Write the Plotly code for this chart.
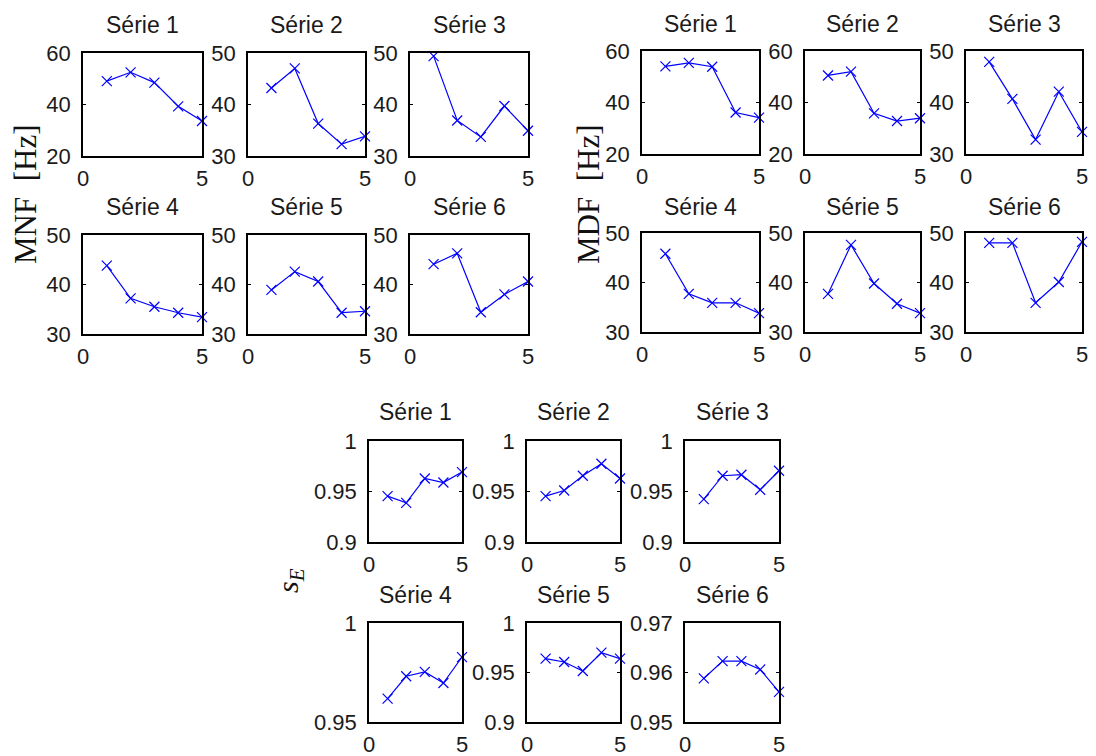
import plotly.graph_objects as go

W, H = 1096, 756

x_vals = [1, 2, 3, 4, 5]
titles = ["Série 1", "Série 2", "Série 3", "Série 4", "Série 5", "Série 6"]

# MNF [Hz]
mnf_s1 = [49.1, 52.5, 48.5, 39.3, 33.6]
mnf_s2 = [43.2, 47.0, 36.3, 32.3, 33.8]
mnf_s3 = [49.4, 36.9, 33.7, 39.7, 34.9]
mnf_s4 = [43.8, 37.2, 35.5, 34.3, 33.4]
mnf_s5 = [38.9, 42.6, 40.6, 34.3, 34.6]
mnf_s6 = [44.1, 46.3, 34.4, 38.0, 40.6]

# MDF [Hz]
mdf_s1 = [54.0, 55.4, 53.9, 36.1, 34.1]
mdf_s2 = [50.5, 52.0, 35.8, 32.8, 33.9]
mdf_s3 = [47.9, 40.7, 32.8, 42.1, 34.3]
mdf_s4 = [45.8, 37.7, 35.9, 35.9, 33.8]
mdf_s5 = [37.7, 47.6, 39.8, 35.7, 33.8]
mdf_s6 = [48.0, 48.0, 35.9, 40.1, 48.2]

# s_E
se_s1 = [0.9454, 0.9387, 0.9629, 0.9589, 0.9692]
se_s2 = [0.9454, 0.9510, 0.9656, 0.9775, 0.9629]
se_s3 = [0.9424, 0.9656, 0.9666, 0.9517, 0.9705]
se_s4 = [0.9618, 0.9731, 0.9753, 0.9697, 0.9828]
se_s5 = [0.9640, 0.9606, 0.9515, 0.9700, 0.9640]
se_s6 = [0.9588, 0.9623, 0.9623, 0.9606, 0.9561]

# y tick values and labels per panel
mnf_ticks = [[20, 40, 60], [30, 40, 50], [30, 40, 50], [30, 40, 50], [30, 40, 50], [30, 40, 50]]
mdf_ticks = [[20, 40, 60], [20, 40, 60], [30, 40, 50], [30, 40, 50], [30, 40, 50], [30, 40, 50]]
se_ticks = [[0.9, 0.95, 1.0], [0.9, 0.95, 1.0], [0.9, 0.95, 1.0], [0.95, 1.0], [0.9, 0.95, 1.0], [0.95, 0.96, 0.97]]
se_ticktext = [["0.9", "0.95", "1"], ["0.9", "0.95", "1"], ["0.9", "0.95", "1"], ["0.95", "1"], ["0.9", "0.95", "1"], ["0.95", "0.96", "0.97"]]
x_ticks = [0, 5]

groups = [
    dict(series=[mnf_s1, mnf_s2, mnf_s3, mnf_s4, mnf_s5, mnf_s6], ticks=mnf_ticks,
         ticktext=[[str(v) for v in t] for t in mnf_ticks],
         cols=[(83, 202), (248, 365), (410, 528)], rows=[(53, 156), (235, 334)],
         title_y=[25, 207]),
    dict(series=[mdf_s1, mdf_s2, mdf_s3, mdf_s4, mdf_s5, mdf_s6], ticks=mdf_ticks,
         ticktext=[[str(v) for v in t] for t in mdf_ticks],
         cols=[(642, 759), (805, 920), (966, 1082)], rows=[(51, 154), (233, 332)],
         title_y=[24, 207]),
    dict(series=[se_s1, se_s2, se_s3, se_s4, se_s5, se_s6], ticks=se_ticks,
         ticktext=se_ticktext,
         cols=[(369, 462), (527, 620), (685, 779)], rows=[(441, 542), (623, 722)],
         title_y=[412, 595]),
]

fig = go.Figure()
layout = {}
annotations = []
FONT = "Liberation Sans, Arial, sans-serif"
n = 0
for g in groups:
    for i in range(6):
        n += 1
        r, c = divmod(i, 3)
        x0, x1 = g["cols"][c]
        y0, y1 = g["rows"][r]
        sfx = "" if n == 1 else str(n)
        fig.add_trace(go.Scatter(
            x=x_vals, y=g["series"][i], mode="lines+markers",
            xaxis="x" + sfx, yaxis="y" + sfx,
            line=dict(color="#0000ff", width=1.2),
            marker=dict(symbol="x-thin-open", size=10, line=dict(color="#0000ff", width=1.2)),
            cliponaxis=False, showlegend=False, hoverinfo="skip"))
        tv = g["ticks"][i]
        common = dict(showline=True, linecolor="black", linewidth=1.5, mirror="ticks",
                      ticks="inside", ticklen=3, tickcolor="black", showgrid=False,
                      zeroline=False, automargin=False,
                      tickfont=dict(family=FONT, size=22, color="#1a1a1a"))
        layout["xaxis" + sfx] = dict(domain=[x0 / W, x1 / W], range=[0, 5],
                                     tickvals=x_ticks, anchor="y" + sfx,
                                     ticklabelstandoff=2, **common)
        layout["yaxis" + sfx] = dict(domain=[1 - y1 / H, 1 - y0 / H], range=[tv[0], tv[-1]],
                                     tickvals=tv, ticktext=g["ticktext"][i],
                                     anchor="x" + sfx, ticklabelstandoff=6, **common)
        annotations.append(dict(text=titles[i], x=(x0 + x1) / 2 / W, y=1 - g["title_y"][r] / H,
                                xref="paper", yref="paper", showarrow=False,
                                xanchor="center", yanchor="middle",
                                font=dict(family=FONT, size=23, color="#1a1a1a")))

SERIF = "Liberation Serif, Times New Roman, serif"
annotations.append(dict(text="MNF  [Hz]", x=25 / W, y=1 - 194 / H, xref="paper", yref="paper",
                        showarrow=False, textangle=-90, xanchor="center", yanchor="middle",
                        font=dict(family=SERIF, size=31, color="#111")))
annotations.append(dict(text="MDF  [Hz]", x=588 / W, y=1 - 194 / H, xref="paper", yref="paper",
                        showarrow=False, textangle=-90, xanchor="center", yanchor="middle",
                        font=dict(family=SERIF, size=31, color="#111")))
annotations.append(dict(text="<i>s<sub>E</sub></i>", x=290 / W, y=1 - 581 / H,
                        xref="paper", yref="paper",
                        showarrow=False, textangle=-90, xanchor="center", yanchor="middle",
                        font=dict(family=SERIF, size=30, color="#111")))

fig.update_layout(width=W, height=H, margin=dict(l=0, r=0, t=0, b=0, autoexpand=False),
                  paper_bgcolor="white", plot_bgcolor="white",
                  annotations=annotations, **layout)
fig.write_html("out.html", config={"displayModeBar": False},
               post_script="document.body.style.margin='0';document.body.style.overflow='hidden';")
